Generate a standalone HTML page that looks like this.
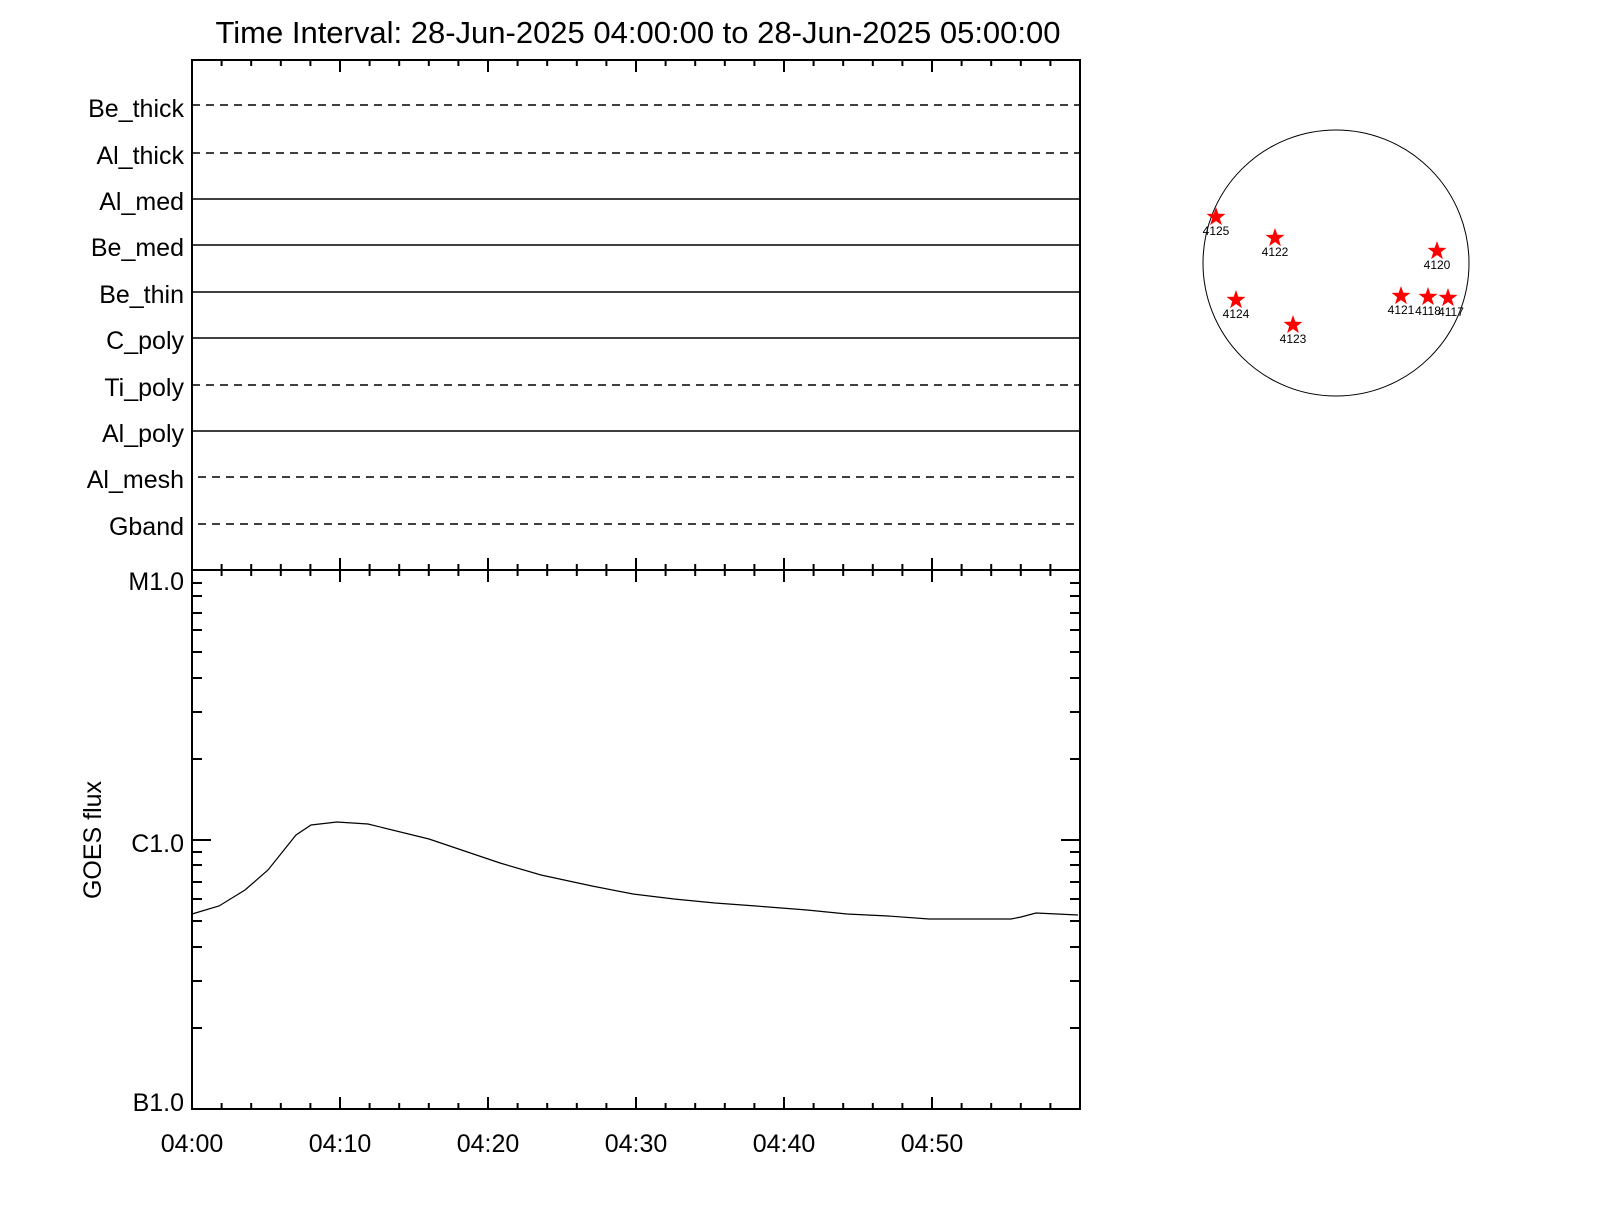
<!DOCTYPE html>
<html><head><style>html,body{margin:0;padding:0;background:#fff}</style></head>
<body>
<svg width="1600" height="1200" viewBox="0 0 1600 1200" xmlns="http://www.w3.org/2000/svg" font-family="Liberation Sans, sans-serif">
<rect width="1600" height="1200" fill="#fff"/>
<text x="638" y="43" font-size="31" text-anchor="middle">Time Interval: 28-Jun-2025 04:00:00 to 28-Jun-2025 05:00:00</text>
<g stroke="#000" stroke-width="2" fill="none">
<rect x="192" y="60" width="888" height="1049"/>
<line x1="192" y1="570" x2="1080" y2="570"/>
</g>
<g stroke="#000" stroke-width="2">
<path d="
M192,60v12 M221.6,60v6 M251.2,60v6 M280.8,60v6 M310.4,60v6 M340,60v12 M369.6,60v6 M399.2,60v6 M428.8,60v6 M458.4,60v6 M488,60v12 M517.6,60v6 M547.2,60v6 M576.8,60v6 M606.4,60v6 M636,60v12 M665.6,60v6 M695.2,60v6 M724.8,60v6 M754.4,60v6 M784,60v12 M813.6,60v6 M843.2,60v6 M872.8,60v6 M902.4,60v6 M932,60v12 M961.6,60v6 M991.2,60v6 M1020.8,60v6 M1050.4,60v6
M221.6,564v12 M251.2,564v12 M280.8,564v12 M310.4,564v12 M340,558v24 M369.6,564v12 M399.2,564v12 M428.8,564v12 M458.4,564v12 M488,558v24 M517.6,564v12 M547.2,564v12 M576.8,564v12 M606.4,564v12 M636,558v24 M665.6,564v12 M695.2,564v12 M724.8,564v12 M754.4,564v12 M784,558v24 M813.6,564v12 M843.2,564v12 M872.8,564v12 M902.4,564v12 M932,558v24 M961.6,564v12 M991.2,564v12 M1020.8,564v12 M1050.4,564v12
M221.6,1109v-6 M251.2,1109v-6 M280.8,1109v-6 M310.4,1109v-6 M340,1109v-12 M369.6,1109v-6 M399.2,1109v-6 M428.8,1109v-6 M458.4,1109v-6 M488,1109v-12 M517.6,1109v-6 M547.2,1109v-6 M576.8,1109v-6 M606.4,1109v-6 M636,1109v-12 M665.6,1109v-6 M695.2,1109v-6 M724.8,1109v-6 M754.4,1109v-6 M784,1109v-12 M813.6,1109v-6 M843.2,1109v-6 M872.8,1109v-6 M902.4,1109v-6 M932,1109v-12 M961.6,1109v-6 M991.2,1109v-6 M1020.8,1109v-6 M1050.4,1109v-6
"/>
<path d="
M192,840h19 M1080,840h-19
M192,1028h10 M192,981h10 M192,947h10 M192,921h10 M192,899h10 M192,882h10 M192,865h10 M192,852h10
M192,759h10 M192,712h10 M192,678h10 M192,652h10 M192,630h10 M192,613h10 M192,596h10 M192,583h10
M1080,1028h-10 M1080,981h-10 M1080,947h-10 M1080,921h-10 M1080,899h-10 M1080,882h-10 M1080,865h-10 M1080,852h-10
M1080,759h-10 M1080,712h-10 M1080,678h-10 M1080,652h-10 M1080,630h-10 M1080,613h-10 M1080,596h-10 M1080,583h-10
"/>
</g>
<g stroke="#000" stroke-width="1.5">
<line x1="192" y1="105" x2="1080" y2="105" stroke-dasharray="8,6"/>
<line x1="192" y1="153" x2="1080" y2="153" stroke-dasharray="8,6"/>
<line x1="192" y1="199" x2="1080" y2="199"/>
<line x1="192" y1="245" x2="1080" y2="245"/>
<line x1="192" y1="292" x2="1080" y2="292"/>
<line x1="192" y1="338" x2="1080" y2="338"/>
<line x1="192" y1="385" x2="1080" y2="385" stroke-dasharray="8,6"/>
<line x1="192" y1="431" x2="1080" y2="431"/>
<line x1="198" y1="477" x2="1077" y2="477" stroke-dasharray="8,6"/>
<line x1="198" y1="524" x2="1077" y2="524" stroke-dasharray="8,6"/>
</g>
<g font-size="25" text-anchor="end">
<text x="184" y="117">Be_thick</text>
<text x="184" y="164">Al_thick</text>
<text x="184" y="210">Al_med</text>
<text x="184" y="256">Be_med</text>
<text x="184" y="303">Be_thin</text>
<text x="184" y="349">C_poly</text>
<text x="184" y="396">Ti_poly</text>
<text x="184" y="442">Al_poly</text>
<text x="184" y="488">Al_mesh</text>
<text x="184" y="535">Gband</text>
<text x="184" y="590">M1.0</text>
<text x="184" y="852">C1.0</text>
<text x="184" y="1111">B1.0</text>
</g>
<g font-size="25" text-anchor="middle">
<text x="192" y="1152">04:00</text>
<text x="340" y="1152">04:10</text>
<text x="488" y="1152">04:20</text>
<text x="636" y="1152">04:30</text>
<text x="784" y="1152">04:40</text>
<text x="932" y="1152">04:50</text>
<text transform="translate(101,840) rotate(-90)">GOES flux</text>
</g>
<polyline fill="none" stroke="#000" stroke-width="1.2" points="192,914 219,906 245,890 268,870 296,835 311,825 337,822 368,824 429,839 500,863 541,875 592,886 633,894 674,899 715,903 756,906 807,910 847,914 888,916 929,919 1011,919 1021,917 1036,913 1057,914 1078,915"/>
<circle cx="1336" cy="263" r="133" fill="none" stroke="#000" stroke-width="1"/>
<defs><polygon id="st" points="0,-10 2.35,-3.2 9.5,-3.1 3.8,1.2 5.9,8.1 0,4 -5.9,8.1 -3.8,1.2 -9.5,-3.1 -2.35,-3.2" fill="#f00"/></defs>
<use href="#st" x="1216" y="217"/><use href="#st" x="1275" y="238"/><use href="#st" x="1437" y="251"/>
<use href="#st" x="1236" y="300"/><use href="#st" x="1293" y="325"/><use href="#st" x="1401" y="296"/>
<use href="#st" x="1428" y="297"/><use href="#st" x="1448" y="298"/>
<g font-size="12" text-anchor="middle">
<text x="1216" y="235">4125</text><text x="1275" y="256">4122</text><text x="1437" y="269">4120</text>
<text x="1236" y="318">4124</text><text x="1293" y="343">4123</text><text x="1401" y="314">4121</text>
<text x="1428" y="315">4118</text><text x="1451" y="316">4117</text>
</g>
</svg>
</body></html>
